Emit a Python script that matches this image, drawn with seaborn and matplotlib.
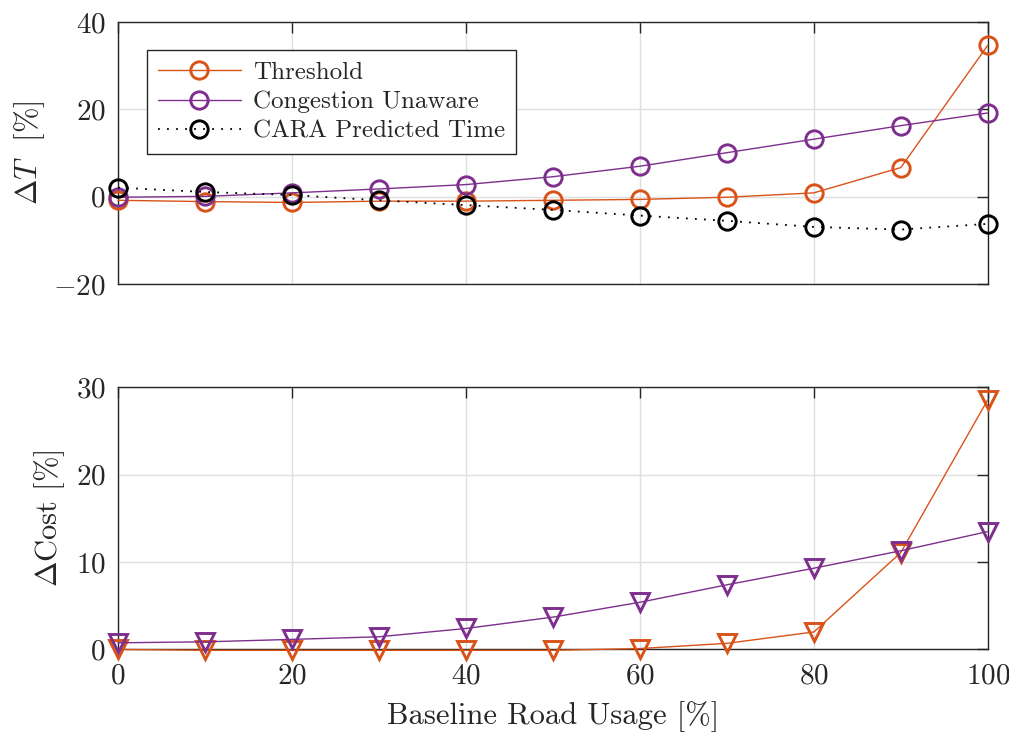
import numpy as np
import pandas as pd
import matplotlib
matplotlib.use("Agg")
import matplotlib.pyplot as plt
import seaborn as sns

# ---- data ----
usage = [0, 10, 20, 30, 40, 50, 60, 70, 80, 90, 100]
dT_threshold = [-0.8, -1.1, -1.3, -1.0, -1.0, -0.8, -0.6, -0.1, 0.9, 6.7, 34.7]
dT_unaware = [-0.1, 0.1, 0.9, 1.8, 2.8, 4.6, 7.0, 10.1, 13.2, 16.3, 19.2]
dT_cara = [2.1, 1.1, 0.4, -0.8, -1.9, -3.0, -4.3, -5.5, -6.9, -7.5, -6.2]
dC_threshold = [0.0, -0.1, -0.1, -0.1, -0.1, -0.1, 0.1, 0.7, 2.0, 11.1, 28.6]
dC_unaware = [0.76, 0.87, 1.15, 1.45, 2.4, 3.7, 5.4, 7.4, 9.3, 11.3, 13.5]

x_ticks = [0, 20, 40, 60, 80, 100]
top_yticks = [-20, 0, 20, 40]
bot_yticks = [0, 10, 20, 30]

ORANGE = "#D95319"
PURPLE = "#7E2F8E"
AXC = "#262626"

sns.set_theme(style="white")
plt.rcParams.update({
    "font.family": "serif",
    "font.serif": ["cmr10"],
    "mathtext.fontset": "cm",
    "axes.formatter.use_mathtext": True,
    "axes.unicode_minus": True,
    "font.size": 21,
})

fig = plt.figure(figsize=(10.09, 7.38), dpi=100)
ax1 = fig.add_axes([0.117, 0.615, 0.862, 0.355])
ax2 = fig.add_axes([0.117, 0.120, 0.862, 0.355])

df_top = pd.DataFrame({"x": usage, "thr": dT_threshold, "una": dT_unaware, "cara": dT_cara})
df_bot = pd.DataFrame({"x": usage, "thr": dC_threshold, "una": dC_unaware})

common = dict(markersize=12.5, markerfacecolor="none", markeredgewidth=2.1,
              linewidth=1.0, clip_on=False, zorder=5)

sns.lineplot(data=df_top, x="x", y="thr", ax=ax1, color=ORANGE, marker="o",
             markeredgecolor=ORANGE, label="Threshold", **common)
sns.lineplot(data=df_top, x="x", y="una", ax=ax1, color=PURPLE, marker="o",
             markeredgecolor=PURPLE, label="Congestion Unaware", **common)
cara_kw = dict(common)
cara_kw["linewidth"] = 1.3
sns.lineplot(data=df_top, x="x", y="cara", ax=ax1, color="black", marker="o",
             markeredgecolor="black", linestyle=(0, (1, 4)), label="CARA Predicted Time", **cara_kw)

sns.lineplot(data=df_bot, x="x", y="thr", ax=ax2, color=ORANGE, marker="v",
             markeredgecolor=ORANGE, **common)
sns.lineplot(data=df_bot, x="x", y="una", ax=ax2, color=PURPLE, marker="v",
             markeredgecolor=PURPLE, **common)

for ax, yt in ((ax1, top_yticks), (ax2, bot_yticks)):
    ax.set_xlim(0, 100)
    ax.set_ylim(yt[0], yt[-1])
    ax.set_xticks(x_ticks)
    ax.set_yticks(yt)
    ax.grid(True, color="#dfdfdf", linewidth=1.0)
    ax.set_axisbelow(True)
    for s in ax.spines.values():
        s.set_color(AXC)
        s.set_linewidth(1.0)
    ax.tick_params(direction="in", length=8, width=1.0, colors=AXC,
                   top=True, right=True, labelsize=21, labelcolor=AXC)
    ax.tick_params(axis="x", pad=10)
    ax.tick_params(axis="y", pad=9)

ax1.set_xticklabels([])
ax1.set_xlabel("")
ax1.set_ylabel(r"$\Delta T$  [%]", fontsize=22, color=AXC, labelpad=4)
ax2.set_ylabel(r"$\Delta\mathrm{Cost}$ [%]", fontsize=22, color=AXC, labelpad=6)
ax2.set_xlabel("Baseline Road Usage [%]", fontsize=22, color=AXC, labelpad=8)

leg = ax1.legend(loc="upper left", bbox_to_anchor=(0.033, 0.893), fontsize=18,
                 frameon=True, fancybox=False, edgecolor=AXC, framealpha=1,
                 handlelength=3.3, borderpad=0.45, labelspacing=0.28, handletextpad=0.5,
                 borderaxespad=0.0)
leg.get_frame().set_linewidth(1.0)

fig.savefig("out.png", dpi=100)
